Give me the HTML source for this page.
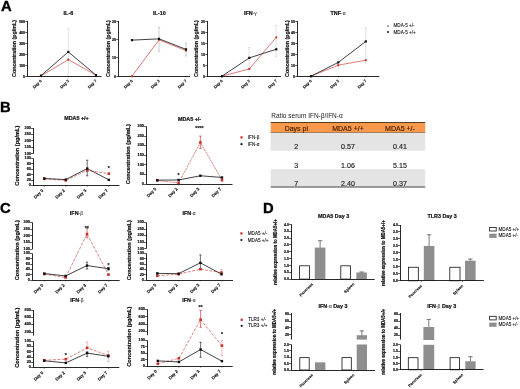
<!DOCTYPE html>
<html><head><meta charset="utf-8"><style>
html,body{margin:0;padding:0;background:#fff;}
body{width:520px;height:389px;overflow:hidden;}
svg{display:block;font-family:"Liberation Sans", sans-serif;}
svg{will-change:transform}
</style></head><body>
<svg width="520" height="389" viewBox="0 0 520 389">
<text x="0.9" y="11.2" font-size="14.8" font-weight="bold" fill="#000" stroke="#000" stroke-width="0.35">A</text>
<text x="0.0" y="112.4" font-size="14.8" font-weight="bold" fill="#000" stroke="#000" stroke-width="0.35">B</text>
<text x="0.1" y="212.9" font-size="14.8" font-weight="bold" fill="#000" stroke="#000" stroke-width="0.35">C</text>
<text x="263.0" y="212.9" font-size="14.8" font-weight="bold" fill="#000" stroke="#000" stroke-width="0.35">D</text>
<text x="68.40" y="13.40" font-size="5.4" text-anchor="middle" font-weight="bold" fill="#111" dominant-baseline="central" stroke="#111" stroke-width="0.2">IL-6</text>
<text x="14.00" y="48.50" font-size="5.3" text-anchor="middle" font-weight="bold" fill="#111" dominant-baseline="central" stroke="#111" stroke-width="0.2" transform="rotate(-90 14 48.5)">Concentration (pg/mL)</text>
<line x1="68.30" y1="28.73" x2="68.30" y2="76.20" stroke="#c8c8c8" stroke-width="0.5"/>
<line x1="67.10" y1="28.73" x2="69.50" y2="28.73" stroke="#c8c8c8" stroke-width="0.5"/>
<line x1="67.10" y1="76.20" x2="69.50" y2="76.20" stroke="#c8c8c8" stroke-width="0.5"/>
<line x1="27.50" y1="76.60" x2="27.50" y2="21.00" stroke="#111" stroke-width="0.9"/>
<line x1="25.30" y1="76.50" x2="27.50" y2="76.50" stroke="#111" stroke-width="0.7"/>
<text x="25.00" y="76.70" font-size="3.5" text-anchor="end" font-weight="bold" fill="#111" dominant-baseline="central" stroke="#111" stroke-width="0.2">0</text>
<line x1="25.30" y1="65.50" x2="27.50" y2="65.50" stroke="#111" stroke-width="0.7"/>
<text x="25.00" y="65.66" font-size="3.5" text-anchor="end" font-weight="bold" fill="#111" dominant-baseline="central" stroke="#111" stroke-width="0.2">100</text>
<line x1="25.30" y1="54.50" x2="27.50" y2="54.50" stroke="#111" stroke-width="0.7"/>
<text x="25.00" y="54.62" font-size="3.5" text-anchor="end" font-weight="bold" fill="#111" dominant-baseline="central" stroke="#111" stroke-width="0.2">200</text>
<line x1="25.30" y1="43.50" x2="27.50" y2="43.50" stroke="#111" stroke-width="0.7"/>
<text x="25.00" y="43.58" font-size="3.5" text-anchor="end" font-weight="bold" fill="#111" dominant-baseline="central" stroke="#111" stroke-width="0.2">300</text>
<line x1="25.30" y1="32.50" x2="27.50" y2="32.50" stroke="#111" stroke-width="0.7"/>
<text x="25.00" y="32.54" font-size="3.5" text-anchor="end" font-weight="bold" fill="#111" dominant-baseline="central" stroke="#111" stroke-width="0.2">400</text>
<line x1="25.30" y1="21.50" x2="27.50" y2="21.50" stroke="#111" stroke-width="0.7"/>
<text x="25.00" y="21.50" font-size="3.5" text-anchor="end" font-weight="bold" fill="#111" dominant-baseline="central" stroke="#111" stroke-width="0.2">500</text>
<line x1="27.05" y1="76.50" x2="101.60" y2="76.50" stroke="#111" stroke-width="0.9"/>
<line x1="41.00" y1="76.20" x2="41.00" y2="77.40" stroke="#111" stroke-width="0.6"/>
<text x="39.79" y="79.01" font-size="4.0" text-anchor="end" font-weight="bold" fill="#111" stroke="#111" stroke-width="0.12" dominant-baseline="hanging" transform="rotate(-45 39.79 79.01)">Day 0</text>
<line x1="68.30" y1="76.20" x2="68.30" y2="77.40" stroke="#111" stroke-width="0.6"/>
<text x="67.09" y="79.01" font-size="4.0" text-anchor="end" font-weight="bold" fill="#111" stroke="#111" stroke-width="0.12" dominant-baseline="hanging" transform="rotate(-45 67.09 79.01)">Day 3</text>
<line x1="96.00" y1="76.20" x2="96.00" y2="77.40" stroke="#111" stroke-width="0.6"/>
<text x="94.79" y="79.01" font-size="4.0" text-anchor="end" font-weight="bold" fill="#111" stroke="#111" stroke-width="0.12" dominant-baseline="hanging" transform="rotate(-45 94.79 79.01)">Day 7</text>
<polyline points="41.00,75.87 68.30,59.64 96.00,75.10" fill="none" stroke="#cc5048" stroke-width="0.75"/>
<polyline points="41.00,75.65 68.30,51.91 96.00,75.10" fill="none" stroke="#111" stroke-width="0.8"/>
<circle cx="41.00" cy="75.87" r="1.10" fill="#c8302c"/>
<circle cx="68.30" cy="59.64" r="1.10" fill="#c8302c"/>
<circle cx="96.00" cy="75.10" r="1.10" fill="#c8302c"/>
<rect x="39.90" y="74.55" width="2.20" height="2.20" fill="#111"/>
<rect x="67.20" y="50.81" width="2.20" height="2.20" fill="#111"/>
<rect x="94.90" y="74.00" width="2.20" height="2.20" fill="#111"/>
<text x="159.40" y="13.40" font-size="5.4" text-anchor="middle" font-weight="bold" fill="#111" dominant-baseline="central" stroke="#111" stroke-width="0.2">IL-10</text>
<text x="107.50" y="48.50" font-size="5.3" text-anchor="middle" font-weight="bold" fill="#111" dominant-baseline="central" stroke="#111" stroke-width="0.2" transform="rotate(-90 107.5 48.5)">Concentration (pg/mL)</text>
<line x1="159.00" y1="27.26" x2="159.00" y2="51.36" stroke="#9a9a9a" stroke-width="0.5"/>
<line x1="157.80" y1="27.26" x2="160.20" y2="27.26" stroke="#9a9a9a" stroke-width="0.5"/>
<line x1="157.80" y1="51.36" x2="160.20" y2="51.36" stroke="#9a9a9a" stroke-width="0.5"/>
<line x1="186.00" y1="43.08" x2="186.00" y2="55.96" stroke="#9a9a9a" stroke-width="0.5"/>
<line x1="184.80" y1="43.08" x2="187.20" y2="43.08" stroke="#9a9a9a" stroke-width="0.5"/>
<line x1="184.80" y1="55.96" x2="187.20" y2="55.96" stroke="#9a9a9a" stroke-width="0.5"/>
<line x1="118.50" y1="76.60" x2="118.50" y2="21.00" stroke="#111" stroke-width="0.9"/>
<line x1="116.30" y1="76.50" x2="118.50" y2="76.50" stroke="#111" stroke-width="0.7"/>
<text x="116.00" y="76.70" font-size="3.5" text-anchor="end" font-weight="bold" fill="#111" dominant-baseline="central" stroke="#111" stroke-width="0.2">0</text>
<line x1="116.30" y1="57.50" x2="118.50" y2="57.50" stroke="#111" stroke-width="0.7"/>
<text x="116.00" y="58.30" font-size="3.5" text-anchor="end" font-weight="bold" fill="#111" dominant-baseline="central" stroke="#111" stroke-width="0.2">10</text>
<line x1="116.30" y1="39.50" x2="118.50" y2="39.50" stroke="#111" stroke-width="0.7"/>
<text x="116.00" y="39.90" font-size="3.5" text-anchor="end" font-weight="bold" fill="#111" dominant-baseline="central" stroke="#111" stroke-width="0.2">20</text>
<line x1="116.30" y1="21.50" x2="118.50" y2="21.50" stroke="#111" stroke-width="0.7"/>
<text x="116.00" y="21.50" font-size="3.5" text-anchor="end" font-weight="bold" fill="#111" dominant-baseline="central" stroke="#111" stroke-width="0.2">30</text>
<line x1="118.05" y1="76.50" x2="190.00" y2="76.50" stroke="#111" stroke-width="0.9"/>
<line x1="132.00" y1="76.20" x2="132.00" y2="77.40" stroke="#111" stroke-width="0.6"/>
<text x="130.79" y="79.01" font-size="4.0" text-anchor="end" font-weight="bold" fill="#111" stroke="#111" stroke-width="0.12" dominant-baseline="hanging" transform="rotate(-45 130.79 79.01)">Day 0</text>
<line x1="159.00" y1="76.20" x2="159.00" y2="77.40" stroke="#111" stroke-width="0.6"/>
<text x="157.79" y="79.01" font-size="4.0" text-anchor="end" font-weight="bold" fill="#111" stroke="#111" stroke-width="0.12" dominant-baseline="hanging" transform="rotate(-45 157.79 79.01)">Day 3</text>
<line x1="186.00" y1="76.20" x2="186.00" y2="77.40" stroke="#111" stroke-width="0.6"/>
<text x="184.79" y="79.01" font-size="4.0" text-anchor="end" font-weight="bold" fill="#111" stroke="#111" stroke-width="0.12" dominant-baseline="hanging" transform="rotate(-45 184.79 79.01)">Day 7</text>
<polyline points="132.00,76.20 159.00,39.77 186.00,50.62" fill="none" stroke="#cc5048" stroke-width="0.75"/>
<polyline points="132.00,40.14 159.00,38.85 186.00,49.34" fill="none" stroke="#111" stroke-width="0.8"/>
<circle cx="132.00" cy="76.20" r="1.10" fill="#c8302c"/>
<circle cx="159.00" cy="39.77" r="1.10" fill="#c8302c"/>
<circle cx="186.00" cy="50.62" r="1.10" fill="#c8302c"/>
<rect x="130.90" y="39.04" width="2.20" height="2.20" fill="#111"/>
<rect x="157.90" y="37.75" width="2.20" height="2.20" fill="#111"/>
<rect x="184.90" y="48.24" width="2.20" height="2.20" fill="#111"/>
<text x="250.40" y="13.40" font-size="5.4" text-anchor="middle" font-weight="bold" fill="#111" dominant-baseline="central" stroke="#111" stroke-width="0.2">IFN<tspan font-weight="normal" font-size="4.86" fill="#444" stroke="#444" stroke-width="0.1">-γ</tspan></text>
<text x="195.80" y="48.50" font-size="5.3" text-anchor="middle" font-weight="bold" fill="#111" dominant-baseline="central" stroke="#111" stroke-width="0.2" transform="rotate(-90 195.8 48.5)">Concentration (pg/mL)</text>
<line x1="249.00" y1="47.50" x2="249.00" y2="69.58" stroke="#c0c0c0" stroke-width="0.5"/>
<line x1="247.80" y1="47.50" x2="250.20" y2="47.50" stroke="#c0c0c0" stroke-width="0.5"/>
<line x1="247.80" y1="69.58" x2="250.20" y2="69.58" stroke="#c0c0c0" stroke-width="0.5"/>
<line x1="276.00" y1="25.42" x2="276.00" y2="56.33" stroke="#c0c0c0" stroke-width="0.5"/>
<line x1="274.80" y1="25.42" x2="277.20" y2="25.42" stroke="#c0c0c0" stroke-width="0.5"/>
<line x1="274.80" y1="56.33" x2="277.20" y2="56.33" stroke="#c0c0c0" stroke-width="0.5"/>
<line x1="207.50" y1="76.60" x2="207.50" y2="21.00" stroke="#111" stroke-width="0.9"/>
<line x1="205.30" y1="76.50" x2="207.50" y2="76.50" stroke="#111" stroke-width="0.7"/>
<text x="205.00" y="76.70" font-size="3.5" text-anchor="end" font-weight="bold" fill="#111" dominant-baseline="central" stroke="#111" stroke-width="0.2">0</text>
<line x1="205.30" y1="65.50" x2="207.50" y2="65.50" stroke="#111" stroke-width="0.7"/>
<text x="205.00" y="65.66" font-size="3.5" text-anchor="end" font-weight="bold" fill="#111" dominant-baseline="central" stroke="#111" stroke-width="0.2">5</text>
<line x1="205.30" y1="54.50" x2="207.50" y2="54.50" stroke="#111" stroke-width="0.7"/>
<text x="205.00" y="54.62" font-size="3.5" text-anchor="end" font-weight="bold" fill="#111" dominant-baseline="central" stroke="#111" stroke-width="0.2">10</text>
<line x1="205.30" y1="43.50" x2="207.50" y2="43.50" stroke="#111" stroke-width="0.7"/>
<text x="205.00" y="43.58" font-size="3.5" text-anchor="end" font-weight="bold" fill="#111" dominant-baseline="central" stroke="#111" stroke-width="0.2">15</text>
<line x1="205.30" y1="32.50" x2="207.50" y2="32.50" stroke="#111" stroke-width="0.7"/>
<text x="205.00" y="32.54" font-size="3.5" text-anchor="end" font-weight="bold" fill="#111" dominant-baseline="central" stroke="#111" stroke-width="0.2">20</text>
<line x1="205.30" y1="21.50" x2="207.50" y2="21.50" stroke="#111" stroke-width="0.7"/>
<text x="205.00" y="21.50" font-size="3.5" text-anchor="end" font-weight="bold" fill="#111" dominant-baseline="central" stroke="#111" stroke-width="0.2">25</text>
<line x1="207.05" y1="76.50" x2="281.00" y2="76.50" stroke="#111" stroke-width="0.9"/>
<line x1="222.00" y1="76.20" x2="222.00" y2="77.40" stroke="#111" stroke-width="0.6"/>
<text x="220.79" y="79.01" font-size="4.0" text-anchor="end" font-weight="bold" fill="#111" stroke="#111" stroke-width="0.12" dominant-baseline="hanging" transform="rotate(-45 220.79 79.01)">Day 0</text>
<line x1="249.30" y1="76.20" x2="249.30" y2="77.40" stroke="#111" stroke-width="0.6"/>
<text x="248.09" y="79.01" font-size="4.0" text-anchor="end" font-weight="bold" fill="#111" stroke="#111" stroke-width="0.12" dominant-baseline="hanging" transform="rotate(-45 248.09 79.01)">Day 3</text>
<line x1="276.30" y1="76.20" x2="276.30" y2="77.40" stroke="#111" stroke-width="0.6"/>
<text x="275.09" y="79.01" font-size="4.0" text-anchor="end" font-weight="bold" fill="#111" stroke="#111" stroke-width="0.12" dominant-baseline="hanging" transform="rotate(-45 275.09 79.01)">Day 7</text>
<polyline points="222.00,76.20 249.30,68.91 276.30,37.34" fill="none" stroke="#cc5048" stroke-width="0.75"/>
<polyline points="222.00,76.20 249.30,57.87 276.30,49.26" fill="none" stroke="#111" stroke-width="0.8"/>
<circle cx="222.00" cy="76.20" r="1.10" fill="#c8302c"/>
<circle cx="249.30" cy="68.91" r="1.10" fill="#c8302c"/>
<circle cx="276.30" cy="37.34" r="1.10" fill="#c8302c"/>
<rect x="220.90" y="75.10" width="2.20" height="2.20" fill="#111"/>
<rect x="248.20" y="56.77" width="2.20" height="2.20" fill="#111"/>
<rect x="275.20" y="48.16" width="2.20" height="2.20" fill="#111"/>
<text x="338.00" y="13.40" font-size="5.4" text-anchor="middle" font-weight="bold" fill="#111" dominant-baseline="central" stroke="#111" stroke-width="0.2">TNF<tspan font-weight="normal" font-size="4.86" fill="#444" stroke="#444" stroke-width="0.1">-α</tspan></text>
<text x="286.50" y="48.50" font-size="5.3" text-anchor="middle" font-weight="bold" fill="#111" dominant-baseline="central" stroke="#111" stroke-width="0.2" transform="rotate(-90 286.5 48.5)">Concentration (pg/mL)</text>
<line x1="338.30" y1="58.54" x2="338.30" y2="67.37" stroke="#c0c0c0" stroke-width="0.5"/>
<line x1="337.10" y1="58.54" x2="339.50" y2="58.54" stroke="#c0c0c0" stroke-width="0.5"/>
<line x1="337.10" y1="67.37" x2="339.50" y2="67.37" stroke="#c0c0c0" stroke-width="0.5"/>
<line x1="365.80" y1="27.62" x2="365.80" y2="62.95" stroke="#c0c0c0" stroke-width="0.5"/>
<line x1="364.60" y1="27.62" x2="367.00" y2="27.62" stroke="#c0c0c0" stroke-width="0.5"/>
<line x1="364.60" y1="62.95" x2="367.00" y2="62.95" stroke="#c0c0c0" stroke-width="0.5"/>
<line x1="297.50" y1="76.60" x2="297.50" y2="21.00" stroke="#111" stroke-width="0.9"/>
<line x1="295.30" y1="76.50" x2="297.50" y2="76.50" stroke="#111" stroke-width="0.7"/>
<text x="295.00" y="76.70" font-size="3.5" text-anchor="end" font-weight="bold" fill="#111" dominant-baseline="central" stroke="#111" stroke-width="0.2">0</text>
<line x1="295.30" y1="65.50" x2="297.50" y2="65.50" stroke="#111" stroke-width="0.7"/>
<text x="295.00" y="65.66" font-size="3.5" text-anchor="end" font-weight="bold" fill="#111" dominant-baseline="central" stroke="#111" stroke-width="0.2">10</text>
<line x1="295.30" y1="54.50" x2="297.50" y2="54.50" stroke="#111" stroke-width="0.7"/>
<text x="295.00" y="54.62" font-size="3.5" text-anchor="end" font-weight="bold" fill="#111" dominant-baseline="central" stroke="#111" stroke-width="0.2">20</text>
<line x1="295.30" y1="43.50" x2="297.50" y2="43.50" stroke="#111" stroke-width="0.7"/>
<text x="295.00" y="43.58" font-size="3.5" text-anchor="end" font-weight="bold" fill="#111" dominant-baseline="central" stroke="#111" stroke-width="0.2">30</text>
<line x1="295.30" y1="32.50" x2="297.50" y2="32.50" stroke="#111" stroke-width="0.7"/>
<text x="295.00" y="32.54" font-size="3.5" text-anchor="end" font-weight="bold" fill="#111" dominant-baseline="central" stroke="#111" stroke-width="0.2">40</text>
<line x1="295.30" y1="21.50" x2="297.50" y2="21.50" stroke="#111" stroke-width="0.7"/>
<text x="295.00" y="21.50" font-size="3.5" text-anchor="end" font-weight="bold" fill="#111" dominant-baseline="central" stroke="#111" stroke-width="0.2">50</text>
<line x1="297.05" y1="76.50" x2="379.30" y2="76.50" stroke="#111" stroke-width="0.9"/>
<line x1="311.00" y1="76.20" x2="311.00" y2="77.40" stroke="#111" stroke-width="0.6"/>
<text x="309.79" y="79.01" font-size="4.0" text-anchor="end" font-weight="bold" fill="#111" stroke="#111" stroke-width="0.12" dominant-baseline="hanging" transform="rotate(-45 309.79 79.01)">Day 0</text>
<line x1="338.30" y1="76.20" x2="338.30" y2="77.40" stroke="#111" stroke-width="0.6"/>
<text x="337.09" y="79.01" font-size="4.0" text-anchor="end" font-weight="bold" fill="#111" stroke="#111" stroke-width="0.12" dominant-baseline="hanging" transform="rotate(-45 337.09 79.01)">Day 3</text>
<line x1="365.80" y1="76.20" x2="365.80" y2="77.40" stroke="#111" stroke-width="0.6"/>
<text x="364.59" y="79.01" font-size="4.0" text-anchor="end" font-weight="bold" fill="#111" stroke="#111" stroke-width="0.12" dominant-baseline="hanging" transform="rotate(-45 364.59 79.01)">Day 7</text>
<polyline points="311.00,76.20 338.30,65.16 365.80,60.19" fill="none" stroke="#cc5048" stroke-width="0.75"/>
<polyline points="311.00,76.20 338.30,62.40 365.80,41.42" fill="none" stroke="#111" stroke-width="0.8"/>
<circle cx="311.00" cy="76.20" r="1.10" fill="#c8302c"/>
<circle cx="338.30" cy="65.16" r="1.10" fill="#c8302c"/>
<circle cx="365.80" cy="60.19" r="1.10" fill="#c8302c"/>
<rect x="309.90" y="75.10" width="2.20" height="2.20" fill="#111"/>
<rect x="337.20" y="61.30" width="2.20" height="2.20" fill="#111"/>
<rect x="364.70" y="40.32" width="2.20" height="2.20" fill="#111"/>
<circle cx="388.00" cy="25.90" r="1.00" fill="#c07878"/>
<text x="393.50" y="25.90" font-size="4.6" text-anchor="start" font-weight="normal" fill="#111" dominant-baseline="central" stroke="#111" stroke-width="0.1">MDA-5 +/-</text>
<circle cx="388.00" cy="32.00" r="1.00" fill="#111"/>
<text x="393.50" y="32.00" font-size="4.6" text-anchor="start" font-weight="normal" fill="#111" dominant-baseline="central" stroke="#111" stroke-width="0.1">MDA-5 +/+</text>
<text x="76.50" y="117.90" font-size="5.4" text-anchor="middle" font-weight="bold" fill="#111" dominant-baseline="central" stroke="#111" stroke-width="0.2">MDA5 +/+</text>
<text x="16.70" y="155.65" font-size="5.6" text-anchor="middle" font-weight="bold" fill="#111" dominant-baseline="central" stroke="#111" stroke-width="0.2" transform="rotate(-90 16.7 155.65)">Concentration (pg/mL)</text>
<line x1="87.20" y1="160.21" x2="87.20" y2="175.82" stroke="#222" stroke-width="0.65"/>
<line x1="86.00" y1="160.21" x2="88.40" y2="160.21" stroke="#222" stroke-width="0.65"/>
<line x1="86.00" y1="175.82" x2="88.40" y2="175.82" stroke="#222" stroke-width="0.65"/>
<line x1="33.50" y1="185.50" x2="33.50" y2="158.60" stroke="#111" stroke-width="0.9"/>
<line x1="33.50" y1="153.80" x2="33.50" y2="128.00" stroke="#111" stroke-width="0.9"/>
<line x1="31.10" y1="185.50" x2="33.50" y2="185.50" stroke="#111" stroke-width="0.7"/>
<text x="30.90" y="185.30" font-size="3.8" text-anchor="end" font-weight="bold" fill="#111" dominant-baseline="central" stroke="#111" stroke-width="0.2">0</text>
<line x1="31.10" y1="180.50" x2="33.50" y2="180.50" stroke="#111" stroke-width="0.7"/>
<text x="30.90" y="179.92" font-size="3.8" text-anchor="end" font-weight="bold" fill="#111" dominant-baseline="central" stroke="#111" stroke-width="0.2">20</text>
<line x1="31.10" y1="174.50" x2="33.50" y2="174.50" stroke="#111" stroke-width="0.7"/>
<text x="30.90" y="174.54" font-size="3.8" text-anchor="end" font-weight="bold" fill="#111" dominant-baseline="central" stroke="#111" stroke-width="0.2">40</text>
<line x1="31.10" y1="169.50" x2="33.50" y2="169.50" stroke="#111" stroke-width="0.7"/>
<text x="30.90" y="169.16" font-size="3.8" text-anchor="end" font-weight="bold" fill="#111" dominant-baseline="central" stroke="#111" stroke-width="0.2">60</text>
<line x1="31.10" y1="163.50" x2="33.50" y2="163.50" stroke="#111" stroke-width="0.7"/>
<text x="30.90" y="163.78" font-size="3.8" text-anchor="end" font-weight="bold" fill="#111" dominant-baseline="central" stroke="#111" stroke-width="0.2">80</text>
<line x1="31.10" y1="158.50" x2="33.50" y2="158.50" stroke="#111" stroke-width="0.7"/>
<text x="30.90" y="158.40" font-size="3.8" text-anchor="end" font-weight="bold" fill="#111" dominant-baseline="central" stroke="#111" stroke-width="0.2">100</text>
<line x1="31.10" y1="153.50" x2="33.50" y2="153.50" stroke="#111" stroke-width="0.7"/>
<text x="30.90" y="153.60" font-size="3.8" text-anchor="end" font-weight="bold" fill="#111" dominant-baseline="central" stroke="#111" stroke-width="0.2">100</text>
<line x1="31.10" y1="147.50" x2="33.50" y2="147.50" stroke="#111" stroke-width="0.7"/>
<text x="30.90" y="147.15" font-size="3.8" text-anchor="end" font-weight="bold" fill="#111" dominant-baseline="central" stroke="#111" stroke-width="0.2">150</text>
<line x1="31.10" y1="140.50" x2="33.50" y2="140.50" stroke="#111" stroke-width="0.7"/>
<text x="30.90" y="140.70" font-size="3.8" text-anchor="end" font-weight="bold" fill="#111" dominant-baseline="central" stroke="#111" stroke-width="0.2">200</text>
<line x1="31.10" y1="134.50" x2="33.50" y2="134.50" stroke="#111" stroke-width="0.7"/>
<text x="30.90" y="134.25" font-size="3.8" text-anchor="end" font-weight="bold" fill="#111" dominant-baseline="central" stroke="#111" stroke-width="0.2">250</text>
<line x1="31.10" y1="128.50" x2="33.50" y2="128.50" stroke="#111" stroke-width="0.7"/>
<text x="30.90" y="127.80" font-size="3.8" text-anchor="end" font-weight="bold" fill="#111" dominant-baseline="central" stroke="#111" stroke-width="0.2">300</text>
<line x1="33.05" y1="185.50" x2="119.50" y2="185.50" stroke="#111" stroke-width="0.9"/>
<line x1="44.30" y1="185.50" x2="44.30" y2="186.70" stroke="#111" stroke-width="0.6"/>
<text x="41.44" y="188.60" font-size="4.3" text-anchor="end" font-weight="bold" fill="#111" stroke="#111" stroke-width="0.12" dominant-baseline="hanging" transform="rotate(-45 41.44 188.60)">Day 0</text>
<line x1="65.80" y1="185.50" x2="65.80" y2="186.70" stroke="#111" stroke-width="0.6"/>
<text x="62.94" y="188.60" font-size="4.3" text-anchor="end" font-weight="bold" fill="#111" stroke="#111" stroke-width="0.12" dominant-baseline="hanging" transform="rotate(-45 62.94 188.60)">Day 2</text>
<line x1="87.20" y1="185.50" x2="87.20" y2="186.70" stroke="#111" stroke-width="0.6"/>
<text x="84.34" y="188.60" font-size="4.3" text-anchor="end" font-weight="bold" fill="#111" stroke="#111" stroke-width="0.12" dominant-baseline="hanging" transform="rotate(-45 84.34 188.60)">Day 3</text>
<line x1="108.80" y1="185.50" x2="108.80" y2="186.70" stroke="#111" stroke-width="0.6"/>
<text x="105.94" y="188.60" font-size="4.3" text-anchor="end" font-weight="bold" fill="#111" stroke="#111" stroke-width="0.12" dominant-baseline="hanging" transform="rotate(-45 105.94 188.60)">Day 7</text>
<polyline points="44.30,178.78 65.80,180.39 87.20,170.44 108.80,173.66" fill="none" stroke="#cc5048" stroke-width="0.7" stroke-dasharray="3.0,1.4"/>
<polyline points="44.30,178.51 65.80,179.58 87.20,168.55 108.80,179.85" fill="none" stroke="#111" stroke-width="0.8"/>
<rect x="43.00" y="177.47" width="2.60" height="2.60" fill="#c8302c"/>
<rect x="64.50" y="179.09" width="2.60" height="2.60" fill="#c8302c"/>
<rect x="85.90" y="169.14" width="2.60" height="2.60" fill="#c8302c"/>
<rect x="107.50" y="172.36" width="2.60" height="2.60" fill="#c8302c"/>
<rect x="43.10" y="177.31" width="2.40" height="2.40" fill="#111"/>
<rect x="64.60" y="178.38" width="2.40" height="2.40" fill="#111"/>
<rect x="86.00" y="167.35" width="2.40" height="2.40" fill="#111"/>
<rect x="107.60" y="178.65" width="2.40" height="2.40" fill="#111"/>
<text x="108.80" y="167.50" font-size="5.2" text-anchor="middle" font-weight="bold" fill="#222" dominant-baseline="central" stroke="#222" stroke-width="0.2">*</text>
<text x="189.50" y="118.60" font-size="5.4" text-anchor="middle" font-weight="bold" fill="#111" dominant-baseline="central" stroke="#111" stroke-width="0.2">MDA5 +/-</text>
<text x="128.40" y="154.15" font-size="5.6" text-anchor="middle" font-weight="bold" fill="#111" dominant-baseline="central" stroke="#111" stroke-width="0.2" transform="rotate(-90 128.4 154.15)">Concentration (pg/mL)</text>
<line x1="200.40" y1="136.08" x2="200.40" y2="148.54" stroke="#c8302c" stroke-width="0.65"/>
<line x1="199.20" y1="136.08" x2="201.60" y2="136.08" stroke="#c8302c" stroke-width="0.65"/>
<line x1="199.20" y1="148.54" x2="201.60" y2="148.54" stroke="#c8302c" stroke-width="0.65"/>
<line x1="146.50" y1="184.00" x2="146.50" y2="126.50" stroke="#111" stroke-width="0.9"/>
<line x1="144.10" y1="184.50" x2="146.50" y2="184.50" stroke="#111" stroke-width="0.7"/>
<text x="143.90" y="183.80" font-size="3.8" text-anchor="end" font-weight="bold" fill="#111" dominant-baseline="central" stroke="#111" stroke-width="0.2">0</text>
<line x1="144.10" y1="174.50" x2="146.50" y2="174.50" stroke="#111" stroke-width="0.7"/>
<text x="143.90" y="174.22" font-size="3.8" text-anchor="end" font-weight="bold" fill="#111" dominant-baseline="central" stroke="#111" stroke-width="0.2">50</text>
<line x1="144.10" y1="164.50" x2="146.50" y2="164.50" stroke="#111" stroke-width="0.7"/>
<text x="143.90" y="164.63" font-size="3.8" text-anchor="end" font-weight="bold" fill="#111" dominant-baseline="central" stroke="#111" stroke-width="0.2">100</text>
<line x1="144.10" y1="155.50" x2="146.50" y2="155.50" stroke="#111" stroke-width="0.7"/>
<text x="143.90" y="155.05" font-size="3.8" text-anchor="end" font-weight="bold" fill="#111" dominant-baseline="central" stroke="#111" stroke-width="0.2">150</text>
<line x1="144.10" y1="145.50" x2="146.50" y2="145.50" stroke="#111" stroke-width="0.7"/>
<text x="143.90" y="145.47" font-size="3.8" text-anchor="end" font-weight="bold" fill="#111" dominant-baseline="central" stroke="#111" stroke-width="0.2">200</text>
<line x1="144.10" y1="136.50" x2="146.50" y2="136.50" stroke="#111" stroke-width="0.7"/>
<text x="143.90" y="135.88" font-size="3.8" text-anchor="end" font-weight="bold" fill="#111" dominant-baseline="central" stroke="#111" stroke-width="0.2">250</text>
<line x1="144.10" y1="126.50" x2="146.50" y2="126.50" stroke="#111" stroke-width="0.7"/>
<text x="143.90" y="126.30" font-size="3.8" text-anchor="end" font-weight="bold" fill="#111" dominant-baseline="central" stroke="#111" stroke-width="0.2">300</text>
<line x1="146.05" y1="184.50" x2="232.50" y2="184.50" stroke="#111" stroke-width="0.9"/>
<line x1="157.30" y1="184.00" x2="157.30" y2="185.20" stroke="#111" stroke-width="0.6"/>
<text x="154.44" y="187.10" font-size="4.3" text-anchor="end" font-weight="bold" fill="#111" stroke="#111" stroke-width="0.12" dominant-baseline="hanging" transform="rotate(-45 154.44 187.10)">Day 0</text>
<line x1="178.60" y1="184.00" x2="178.60" y2="185.20" stroke="#111" stroke-width="0.6"/>
<text x="175.74" y="187.10" font-size="4.3" text-anchor="end" font-weight="bold" fill="#111" stroke="#111" stroke-width="0.12" dominant-baseline="hanging" transform="rotate(-45 175.74 187.10)">Day 2</text>
<line x1="200.40" y1="184.00" x2="200.40" y2="185.20" stroke="#111" stroke-width="0.6"/>
<text x="197.54" y="187.10" font-size="4.3" text-anchor="end" font-weight="bold" fill="#111" stroke="#111" stroke-width="0.12" dominant-baseline="hanging" transform="rotate(-45 197.54 187.10)">Day 3</text>
<line x1="222.00" y1="184.00" x2="222.00" y2="185.20" stroke="#111" stroke-width="0.6"/>
<text x="219.14" y="187.10" font-size="4.3" text-anchor="end" font-weight="bold" fill="#111" stroke="#111" stroke-width="0.12" dominant-baseline="hanging" transform="rotate(-45 219.14 187.10)">Day 7</text>
<polyline points="157.30,180.55 178.60,182.85 200.40,142.41 222.00,180.17" fill="none" stroke="#cc5048" stroke-width="0.7" stroke-dasharray="2.2,0.8"/>
<polyline points="157.30,180.17 178.60,179.97 200.40,175.76 222.00,177.48" fill="none" stroke="#111" stroke-width="0.8"/>
<rect x="156.00" y="179.25" width="2.60" height="2.60" fill="#c8302c"/>
<rect x="177.30" y="181.55" width="2.60" height="2.60" fill="#c8302c"/>
<rect x="199.10" y="141.11" width="2.60" height="2.60" fill="#c8302c"/>
<rect x="220.70" y="178.87" width="2.60" height="2.60" fill="#c8302c"/>
<rect x="156.10" y="178.97" width="2.40" height="2.40" fill="#111"/>
<rect x="177.40" y="178.78" width="2.40" height="2.40" fill="#111"/>
<rect x="199.20" y="174.56" width="2.40" height="2.40" fill="#111"/>
<rect x="220.80" y="176.28" width="2.40" height="2.40" fill="#111"/>
<text x="199.40" y="128.20" font-size="5.2" text-anchor="middle" font-weight="bold" fill="#222" dominant-baseline="central" stroke="#222" stroke-width="0.2">****</text>
<text x="178.60" y="175.30" font-size="5.2" text-anchor="middle" font-weight="bold" fill="#222" dominant-baseline="central" stroke="#222" stroke-width="0.2">*</text>
<rect x="240.40" y="136.30" width="2.20" height="2.20" fill="#c8302c"/>
<text x="247.80" y="137.40" font-size="4.6" text-anchor="start" font-weight="normal" fill="#111" dominant-baseline="central" stroke="#111" stroke-width="0.1">IFN-β</text>
<circle cx="241.50" cy="144.20" r="1.10" fill="#111"/>
<text x="247.80" y="144.20" font-size="4.6" text-anchor="start" font-weight="normal" fill="#111" dominant-baseline="central" stroke="#111" stroke-width="0.1">IFN-α</text>
<text x="76.40" y="212.60" font-size="5.4" text-anchor="middle" font-weight="bold" fill="#111" dominant-baseline="central" stroke="#111" stroke-width="0.2">IFN<tspan font-weight="normal" font-size="4.86" fill="#444" stroke="#444" stroke-width="0.1">-β</tspan></text>
<text x="16.70" y="250.25" font-size="5.6" text-anchor="middle" font-weight="bold" fill="#111" dominant-baseline="central" stroke="#111" stroke-width="0.2" transform="rotate(-90 16.7 250.25)">Concentration (pg/mL)</text>
<line x1="87.00" y1="228.46" x2="87.00" y2="237.74" stroke="#c8302c" stroke-width="0.65"/>
<line x1="85.80" y1="228.46" x2="88.20" y2="228.46" stroke="#c8302c" stroke-width="0.65"/>
<line x1="85.80" y1="237.74" x2="88.20" y2="237.74" stroke="#c8302c" stroke-width="0.65"/>
<line x1="87.00" y1="262.11" x2="87.00" y2="269.03" stroke="#222" stroke-width="0.65"/>
<line x1="85.80" y1="262.11" x2="88.20" y2="262.11" stroke="#222" stroke-width="0.65"/>
<line x1="85.80" y1="269.03" x2="88.20" y2="269.03" stroke="#222" stroke-width="0.65"/>
<line x1="108.50" y1="267.43" x2="108.50" y2="270.09" stroke="#222" stroke-width="0.65"/>
<line x1="107.30" y1="267.43" x2="109.70" y2="267.43" stroke="#222" stroke-width="0.65"/>
<line x1="107.30" y1="270.09" x2="109.70" y2="270.09" stroke="#222" stroke-width="0.65"/>
<line x1="32.50" y1="280.20" x2="32.50" y2="253.60" stroke="#111" stroke-width="0.9"/>
<line x1="32.50" y1="249.00" x2="32.50" y2="222.50" stroke="#111" stroke-width="0.9"/>
<line x1="30.10" y1="280.50" x2="32.50" y2="280.50" stroke="#111" stroke-width="0.7"/>
<text x="29.90" y="280.00" font-size="3.8" text-anchor="end" font-weight="bold" fill="#111" dominant-baseline="central" stroke="#111" stroke-width="0.2">0</text>
<line x1="30.10" y1="274.50" x2="32.50" y2="274.50" stroke="#111" stroke-width="0.7"/>
<text x="29.90" y="274.68" font-size="3.8" text-anchor="end" font-weight="bold" fill="#111" dominant-baseline="central" stroke="#111" stroke-width="0.2">20</text>
<line x1="30.10" y1="269.50" x2="32.50" y2="269.50" stroke="#111" stroke-width="0.7"/>
<text x="29.90" y="269.36" font-size="3.8" text-anchor="end" font-weight="bold" fill="#111" dominant-baseline="central" stroke="#111" stroke-width="0.2">40</text>
<line x1="30.10" y1="264.50" x2="32.50" y2="264.50" stroke="#111" stroke-width="0.7"/>
<text x="29.90" y="264.04" font-size="3.8" text-anchor="end" font-weight="bold" fill="#111" dominant-baseline="central" stroke="#111" stroke-width="0.2">60</text>
<line x1="30.10" y1="258.50" x2="32.50" y2="258.50" stroke="#111" stroke-width="0.7"/>
<text x="29.90" y="258.72" font-size="3.8" text-anchor="end" font-weight="bold" fill="#111" dominant-baseline="central" stroke="#111" stroke-width="0.2">80</text>
<line x1="30.10" y1="253.50" x2="32.50" y2="253.50" stroke="#111" stroke-width="0.7"/>
<text x="29.90" y="253.40" font-size="3.8" text-anchor="end" font-weight="bold" fill="#111" dominant-baseline="central" stroke="#111" stroke-width="0.2">100</text>
<line x1="30.10" y1="249.50" x2="32.50" y2="249.50" stroke="#111" stroke-width="0.7"/>
<text x="29.90" y="248.80" font-size="3.8" text-anchor="end" font-weight="bold" fill="#111" dominant-baseline="central" stroke="#111" stroke-width="0.2">100</text>
<line x1="30.10" y1="242.50" x2="32.50" y2="242.50" stroke="#111" stroke-width="0.7"/>
<text x="29.90" y="242.18" font-size="3.8" text-anchor="end" font-weight="bold" fill="#111" dominant-baseline="central" stroke="#111" stroke-width="0.2">150</text>
<line x1="30.10" y1="235.50" x2="32.50" y2="235.50" stroke="#111" stroke-width="0.7"/>
<text x="29.90" y="235.55" font-size="3.8" text-anchor="end" font-weight="bold" fill="#111" dominant-baseline="central" stroke="#111" stroke-width="0.2">200</text>
<line x1="30.10" y1="229.50" x2="32.50" y2="229.50" stroke="#111" stroke-width="0.7"/>
<text x="29.90" y="228.93" font-size="3.8" text-anchor="end" font-weight="bold" fill="#111" dominant-baseline="central" stroke="#111" stroke-width="0.2">250</text>
<line x1="30.10" y1="222.50" x2="32.50" y2="222.50" stroke="#111" stroke-width="0.7"/>
<text x="29.90" y="222.30" font-size="3.8" text-anchor="end" font-weight="bold" fill="#111" dominant-baseline="central" stroke="#111" stroke-width="0.2">300</text>
<line x1="32.05" y1="280.50" x2="119.70" y2="280.50" stroke="#111" stroke-width="0.9"/>
<line x1="44.30" y1="280.20" x2="44.30" y2="281.40" stroke="#111" stroke-width="0.6"/>
<text x="41.44" y="283.30" font-size="4.3" text-anchor="end" font-weight="bold" fill="#111" stroke="#111" stroke-width="0.12" dominant-baseline="hanging" transform="rotate(-45 41.44 283.30)">Day 0</text>
<line x1="65.60" y1="280.20" x2="65.60" y2="281.40" stroke="#111" stroke-width="0.6"/>
<text x="62.74" y="283.30" font-size="4.3" text-anchor="end" font-weight="bold" fill="#111" stroke="#111" stroke-width="0.12" dominant-baseline="hanging" transform="rotate(-45 62.74 283.30)">Day 2</text>
<line x1="87.00" y1="280.20" x2="87.00" y2="281.40" stroke="#111" stroke-width="0.6"/>
<text x="84.14" y="283.30" font-size="4.3" text-anchor="end" font-weight="bold" fill="#111" stroke="#111" stroke-width="0.12" dominant-baseline="hanging" transform="rotate(-45 84.14 283.30)">Day 3</text>
<line x1="108.50" y1="280.20" x2="108.50" y2="281.40" stroke="#111" stroke-width="0.6"/>
<text x="105.64" y="283.30" font-size="4.3" text-anchor="end" font-weight="bold" fill="#111" stroke="#111" stroke-width="0.12" dominant-baseline="hanging" transform="rotate(-45 105.64 283.30)">Day 7</text>
<polyline points="44.30,274.08 65.60,277.54 87.00,234.03 108.50,274.61" fill="none" stroke="#cc5048" stroke-width="0.7" stroke-dasharray="3.0,1.4"/>
<polyline points="44.30,273.55 65.60,275.94 87.00,265.57 108.50,268.76" fill="none" stroke="#111" stroke-width="0.8"/>
<rect x="43.00" y="272.78" width="2.60" height="2.60" fill="#c8302c"/>
<rect x="64.30" y="276.24" width="2.60" height="2.60" fill="#c8302c"/>
<rect x="85.70" y="232.73" width="2.60" height="2.60" fill="#c8302c"/>
<rect x="107.20" y="273.31" width="2.60" height="2.60" fill="#c8302c"/>
<rect x="43.10" y="272.35" width="2.40" height="2.40" fill="#111"/>
<rect x="64.40" y="274.74" width="2.40" height="2.40" fill="#111"/>
<rect x="85.80" y="264.37" width="2.40" height="2.40" fill="#111"/>
<rect x="107.30" y="267.56" width="2.40" height="2.40" fill="#111"/>
<text x="86.80" y="227.50" font-size="5.2" text-anchor="middle" font-weight="bold" fill="#222" dominant-baseline="central" stroke="#222" stroke-width="0.2">**</text>
<text x="108.50" y="264.50" font-size="5.2" text-anchor="middle" font-weight="bold" fill="#222" dominant-baseline="central" stroke="#222" stroke-width="0.2">*</text>
<text x="189.10" y="212.50" font-size="5.4" text-anchor="middle" font-weight="bold" fill="#111" dominant-baseline="central" stroke="#111" stroke-width="0.2">IFN<tspan font-weight="normal" font-size="4.86" fill="#444" stroke="#444" stroke-width="0.1">-α</tspan></text>
<text x="128.70" y="250.20" font-size="5.6" text-anchor="middle" font-weight="bold" fill="#111" dominant-baseline="central" stroke="#111" stroke-width="0.2" transform="rotate(-90 128.7 250.20000000000002)">Concentration (pg/mL)</text>
<line x1="200.40" y1="254.92" x2="200.40" y2="269.18" stroke="#222" stroke-width="0.65"/>
<line x1="199.20" y1="254.92" x2="201.60" y2="254.92" stroke="#222" stroke-width="0.65"/>
<line x1="199.20" y1="269.18" x2="201.60" y2="269.18" stroke="#222" stroke-width="0.65"/>
<line x1="221.50" y1="269.44" x2="221.50" y2="275.25" stroke="#e08080" stroke-width="0.55"/>
<line x1="220.30" y1="269.44" x2="222.70" y2="269.44" stroke="#e08080" stroke-width="0.55"/>
<line x1="220.30" y1="275.25" x2="222.70" y2="275.25" stroke="#e08080" stroke-width="0.55"/>
<line x1="157.30" y1="272.61" x2="157.30" y2="275.25" stroke="#e08080" stroke-width="0.55"/>
<line x1="156.10" y1="272.61" x2="158.50" y2="272.61" stroke="#e08080" stroke-width="0.55"/>
<line x1="156.10" y1="275.25" x2="158.50" y2="275.25" stroke="#e08080" stroke-width="0.55"/>
<line x1="146.50" y1="280.00" x2="146.50" y2="253.60" stroke="#111" stroke-width="0.9"/>
<line x1="146.50" y1="248.70" x2="146.50" y2="222.60" stroke="#111" stroke-width="0.9"/>
<line x1="144.10" y1="280.50" x2="146.50" y2="280.50" stroke="#111" stroke-width="0.7"/>
<text x="143.90" y="279.80" font-size="3.8" text-anchor="end" font-weight="bold" fill="#111" dominant-baseline="central" stroke="#111" stroke-width="0.2">0</text>
<line x1="144.10" y1="274.50" x2="146.50" y2="274.50" stroke="#111" stroke-width="0.7"/>
<text x="143.90" y="274.52" font-size="3.8" text-anchor="end" font-weight="bold" fill="#111" dominant-baseline="central" stroke="#111" stroke-width="0.2">20</text>
<line x1="144.10" y1="269.50" x2="146.50" y2="269.50" stroke="#111" stroke-width="0.7"/>
<text x="143.90" y="269.24" font-size="3.8" text-anchor="end" font-weight="bold" fill="#111" dominant-baseline="central" stroke="#111" stroke-width="0.2">40</text>
<line x1="144.10" y1="264.50" x2="146.50" y2="264.50" stroke="#111" stroke-width="0.7"/>
<text x="143.90" y="263.96" font-size="3.8" text-anchor="end" font-weight="bold" fill="#111" dominant-baseline="central" stroke="#111" stroke-width="0.2">60</text>
<line x1="144.10" y1="258.50" x2="146.50" y2="258.50" stroke="#111" stroke-width="0.7"/>
<text x="143.90" y="258.68" font-size="3.8" text-anchor="end" font-weight="bold" fill="#111" dominant-baseline="central" stroke="#111" stroke-width="0.2">80</text>
<line x1="144.10" y1="253.50" x2="146.50" y2="253.50" stroke="#111" stroke-width="0.7"/>
<text x="143.90" y="253.40" font-size="3.8" text-anchor="end" font-weight="bold" fill="#111" dominant-baseline="central" stroke="#111" stroke-width="0.2">100</text>
<line x1="144.10" y1="248.50" x2="146.50" y2="248.50" stroke="#111" stroke-width="0.7"/>
<text x="143.90" y="248.50" font-size="3.8" text-anchor="end" font-weight="bold" fill="#111" dominant-baseline="central" stroke="#111" stroke-width="0.2">100</text>
<line x1="144.10" y1="242.50" x2="146.50" y2="242.50" stroke="#111" stroke-width="0.7"/>
<text x="143.90" y="241.97" font-size="3.8" text-anchor="end" font-weight="bold" fill="#111" dominant-baseline="central" stroke="#111" stroke-width="0.2">150</text>
<line x1="144.10" y1="235.50" x2="146.50" y2="235.50" stroke="#111" stroke-width="0.7"/>
<text x="143.90" y="235.45" font-size="3.8" text-anchor="end" font-weight="bold" fill="#111" dominant-baseline="central" stroke="#111" stroke-width="0.2">200</text>
<line x1="144.10" y1="229.50" x2="146.50" y2="229.50" stroke="#111" stroke-width="0.7"/>
<text x="143.90" y="228.93" font-size="3.8" text-anchor="end" font-weight="bold" fill="#111" dominant-baseline="central" stroke="#111" stroke-width="0.2">250</text>
<line x1="144.10" y1="222.50" x2="146.50" y2="222.50" stroke="#111" stroke-width="0.7"/>
<text x="143.90" y="222.40" font-size="3.8" text-anchor="end" font-weight="bold" fill="#111" dominant-baseline="central" stroke="#111" stroke-width="0.2">300</text>
<line x1="146.05" y1="280.50" x2="233.00" y2="280.50" stroke="#111" stroke-width="0.9"/>
<line x1="157.30" y1="280.00" x2="157.30" y2="281.20" stroke="#111" stroke-width="0.6"/>
<text x="154.44" y="283.10" font-size="4.3" text-anchor="end" font-weight="bold" fill="#111" stroke="#111" stroke-width="0.12" dominant-baseline="hanging" transform="rotate(-45 154.44 283.10)">Day 0</text>
<line x1="178.60" y1="280.00" x2="178.60" y2="281.20" stroke="#111" stroke-width="0.6"/>
<text x="175.74" y="283.10" font-size="4.3" text-anchor="end" font-weight="bold" fill="#111" stroke="#111" stroke-width="0.12" dominant-baseline="hanging" transform="rotate(-45 175.74 283.10)">Day 2</text>
<line x1="200.40" y1="280.00" x2="200.40" y2="281.20" stroke="#111" stroke-width="0.6"/>
<text x="197.54" y="283.10" font-size="4.3" text-anchor="end" font-weight="bold" fill="#111" stroke="#111" stroke-width="0.12" dominant-baseline="hanging" transform="rotate(-45 197.54 283.10)">Day 3</text>
<line x1="221.50" y1="280.00" x2="221.50" y2="281.20" stroke="#111" stroke-width="0.6"/>
<text x="218.64" y="283.10" font-size="4.3" text-anchor="end" font-weight="bold" fill="#111" stroke="#111" stroke-width="0.12" dominant-baseline="hanging" transform="rotate(-45 218.64 283.10)">Day 7</text>
<polyline points="157.30,275.78 178.60,274.19 200.40,269.18 221.50,272.61" fill="none" stroke="#cc5048" stroke-width="0.7" stroke-dasharray="3.0,1.4"/>
<polyline points="157.30,273.40 178.60,273.66 200.40,262.84 221.50,274.19" fill="none" stroke="#111" stroke-width="0.8"/>
<rect x="156.00" y="274.48" width="2.60" height="2.60" fill="#c8302c"/>
<rect x="177.30" y="272.89" width="2.60" height="2.60" fill="#c8302c"/>
<rect x="199.10" y="267.88" width="2.60" height="2.60" fill="#c8302c"/>
<rect x="220.20" y="271.31" width="2.60" height="2.60" fill="#c8302c"/>
<rect x="156.10" y="272.20" width="2.40" height="2.40" fill="#111"/>
<rect x="177.40" y="272.46" width="2.40" height="2.40" fill="#111"/>
<rect x="199.20" y="261.64" width="2.40" height="2.40" fill="#111"/>
<rect x="220.30" y="272.99" width="2.40" height="2.40" fill="#111"/>
<rect x="240.30" y="232.30" width="2.20" height="2.20" fill="#c8302c"/>
<text x="247.80" y="233.40" font-size="4.6" text-anchor="start" font-weight="normal" fill="#111" dominant-baseline="central" stroke="#111" stroke-width="0.1">MDA5 +/-</text>
<circle cx="241.40" cy="240.00" r="1.10" fill="#111"/>
<text x="247.80" y="240.00" font-size="4.6" text-anchor="start" font-weight="normal" fill="#111" dominant-baseline="central" stroke="#111" stroke-width="0.1">MDA5 +/+</text>
<text x="76.90" y="300.40" font-size="5.4" text-anchor="middle" font-weight="bold" fill="#111" dominant-baseline="central" stroke="#111" stroke-width="0.2">IFN<tspan font-weight="normal" font-size="4.86" fill="#444" stroke="#444" stroke-width="0.1">-β</tspan></text>
<text x="16.90" y="337.70" font-size="5.6" text-anchor="middle" font-weight="bold" fill="#111" dominant-baseline="central" stroke="#111" stroke-width="0.2" transform="rotate(-90 16.9 337.7)">Concentration (pg/mL)</text>
<line x1="87.10" y1="341.83" x2="87.10" y2="348.14" stroke="#e08080" stroke-width="0.55"/>
<line x1="85.90" y1="341.83" x2="88.30" y2="341.83" stroke="#e08080" stroke-width="0.55"/>
<line x1="85.90" y1="348.14" x2="88.30" y2="348.14" stroke="#e08080" stroke-width="0.55"/>
<line x1="87.10" y1="351.82" x2="87.10" y2="356.55" stroke="#222" stroke-width="0.65"/>
<line x1="85.90" y1="351.82" x2="88.30" y2="351.82" stroke="#222" stroke-width="0.65"/>
<line x1="85.90" y1="356.55" x2="88.30" y2="356.55" stroke="#222" stroke-width="0.65"/>
<line x1="108.30" y1="351.29" x2="108.30" y2="361.81" stroke="#e08080" stroke-width="0.55"/>
<line x1="107.10" y1="351.29" x2="109.50" y2="351.29" stroke="#e08080" stroke-width="0.55"/>
<line x1="107.10" y1="361.81" x2="109.50" y2="361.81" stroke="#e08080" stroke-width="0.55"/>
<line x1="33.50" y1="367.60" x2="33.50" y2="341.30" stroke="#111" stroke-width="0.9"/>
<line x1="33.50" y1="335.70" x2="33.50" y2="310.00" stroke="#111" stroke-width="0.9"/>
<line x1="31.10" y1="367.50" x2="33.50" y2="367.50" stroke="#111" stroke-width="0.7"/>
<text x="30.90" y="367.40" font-size="3.8" text-anchor="end" font-weight="bold" fill="#111" dominant-baseline="central" stroke="#111" stroke-width="0.2">0</text>
<line x1="31.10" y1="362.50" x2="33.50" y2="362.50" stroke="#111" stroke-width="0.7"/>
<text x="30.90" y="362.14" font-size="3.8" text-anchor="end" font-weight="bold" fill="#111" dominant-baseline="central" stroke="#111" stroke-width="0.2">20</text>
<line x1="31.10" y1="357.50" x2="33.50" y2="357.50" stroke="#111" stroke-width="0.7"/>
<text x="30.90" y="356.88" font-size="3.8" text-anchor="end" font-weight="bold" fill="#111" dominant-baseline="central" stroke="#111" stroke-width="0.2">40</text>
<line x1="31.10" y1="351.50" x2="33.50" y2="351.50" stroke="#111" stroke-width="0.7"/>
<text x="30.90" y="351.62" font-size="3.8" text-anchor="end" font-weight="bold" fill="#111" dominant-baseline="central" stroke="#111" stroke-width="0.2">60</text>
<line x1="31.10" y1="346.50" x2="33.50" y2="346.50" stroke="#111" stroke-width="0.7"/>
<text x="30.90" y="346.36" font-size="3.8" text-anchor="end" font-weight="bold" fill="#111" dominant-baseline="central" stroke="#111" stroke-width="0.2">80</text>
<line x1="31.10" y1="341.50" x2="33.50" y2="341.50" stroke="#111" stroke-width="0.7"/>
<text x="30.90" y="341.10" font-size="3.8" text-anchor="end" font-weight="bold" fill="#111" dominant-baseline="central" stroke="#111" stroke-width="0.2">100</text>
<line x1="31.10" y1="332.50" x2="33.50" y2="332.50" stroke="#111" stroke-width="0.7"/>
<text x="30.90" y="331.83" font-size="3.8" text-anchor="end" font-weight="bold" fill="#111" dominant-baseline="central" stroke="#111" stroke-width="0.2">200</text>
<line x1="31.10" y1="324.50" x2="33.50" y2="324.50" stroke="#111" stroke-width="0.7"/>
<text x="30.90" y="324.49" font-size="3.8" text-anchor="end" font-weight="bold" fill="#111" dominant-baseline="central" stroke="#111" stroke-width="0.2">400</text>
<line x1="31.10" y1="317.50" x2="33.50" y2="317.50" stroke="#111" stroke-width="0.7"/>
<text x="30.90" y="317.14" font-size="3.8" text-anchor="end" font-weight="bold" fill="#111" dominant-baseline="central" stroke="#111" stroke-width="0.2">600</text>
<line x1="31.10" y1="310.50" x2="33.50" y2="310.50" stroke="#111" stroke-width="0.7"/>
<text x="30.90" y="309.80" font-size="3.8" text-anchor="end" font-weight="bold" fill="#111" dominant-baseline="central" stroke="#111" stroke-width="0.2">800</text>
<line x1="33.05" y1="367.50" x2="119.30" y2="367.50" stroke="#111" stroke-width="0.9"/>
<line x1="44.20" y1="367.60" x2="44.20" y2="368.80" stroke="#111" stroke-width="0.6"/>
<text x="41.34" y="370.70" font-size="4.3" text-anchor="end" font-weight="bold" fill="#111" stroke="#111" stroke-width="0.12" dominant-baseline="hanging" transform="rotate(-45 41.34 370.70)">Day 0</text>
<line x1="65.80" y1="367.60" x2="65.80" y2="368.80" stroke="#111" stroke-width="0.6"/>
<text x="62.94" y="370.70" font-size="4.3" text-anchor="end" font-weight="bold" fill="#111" stroke="#111" stroke-width="0.12" dominant-baseline="hanging" transform="rotate(-45 62.94 370.70)">Day 2</text>
<line x1="87.10" y1="367.60" x2="87.10" y2="368.80" stroke="#111" stroke-width="0.6"/>
<text x="84.24" y="370.70" font-size="4.3" text-anchor="end" font-weight="bold" fill="#111" stroke="#111" stroke-width="0.12" dominant-baseline="hanging" transform="rotate(-45 84.24 370.70)">Day 3</text>
<line x1="108.30" y1="367.60" x2="108.30" y2="368.80" stroke="#111" stroke-width="0.6"/>
<text x="105.44" y="370.70" font-size="4.3" text-anchor="end" font-weight="bold" fill="#111" stroke="#111" stroke-width="0.12" dominant-baseline="hanging" transform="rotate(-45 105.44 370.70)">Day 7</text>
<polyline points="44.20,360.24 65.80,359.18 87.10,347.88 108.30,355.50" fill="none" stroke="#cc5048" stroke-width="0.7" stroke-dasharray="3.0,1.4"/>
<polyline points="44.20,360.76 65.80,362.87 87.10,353.13 108.30,356.29" fill="none" stroke="#111" stroke-width="0.8"/>
<rect x="42.90" y="358.94" width="2.60" height="2.60" fill="#c8302c"/>
<rect x="64.50" y="357.88" width="2.60" height="2.60" fill="#c8302c"/>
<rect x="85.80" y="346.57" width="2.60" height="2.60" fill="#c8302c"/>
<rect x="107.00" y="354.20" width="2.60" height="2.60" fill="#c8302c"/>
<rect x="43.00" y="359.56" width="2.40" height="2.40" fill="#111"/>
<rect x="64.60" y="361.67" width="2.40" height="2.40" fill="#111"/>
<rect x="85.90" y="351.94" width="2.40" height="2.40" fill="#111"/>
<rect x="107.10" y="355.09" width="2.40" height="2.40" fill="#111"/>
<text x="65.80" y="355.00" font-size="5.2" text-anchor="middle" font-weight="bold" fill="#222" dominant-baseline="central" stroke="#222" stroke-width="0.2">*</text>
<text x="188.90" y="299.80" font-size="5.4" text-anchor="middle" font-weight="bold" fill="#111" dominant-baseline="central" stroke="#111" stroke-width="0.2">IFN<tspan font-weight="normal" font-size="4.86" fill="#444" stroke="#444" stroke-width="0.1">-α</tspan></text>
<text x="129.10" y="336.70" font-size="5.6" text-anchor="middle" font-weight="bold" fill="#111" dominant-baseline="central" stroke="#111" stroke-width="0.2" transform="rotate(-90 129.1 336.7)">Concentration (pg/mL)</text>
<line x1="200.60" y1="310.45" x2="200.60" y2="327.32" stroke="#c8302c" stroke-width="0.65"/>
<line x1="199.40" y1="310.45" x2="201.80" y2="310.45" stroke="#c8302c" stroke-width="0.65"/>
<line x1="199.40" y1="327.32" x2="201.80" y2="327.32" stroke="#c8302c" stroke-width="0.65"/>
<line x1="221.90" y1="340.50" x2="221.90" y2="355.46" stroke="#e08080" stroke-width="0.55"/>
<line x1="220.70" y1="340.50" x2="223.10" y2="340.50" stroke="#e08080" stroke-width="0.55"/>
<line x1="220.70" y1="355.46" x2="223.10" y2="355.46" stroke="#e08080" stroke-width="0.55"/>
<line x1="200.60" y1="342.31" x2="200.60" y2="357.27" stroke="#222" stroke-width="0.65"/>
<line x1="199.40" y1="342.31" x2="201.80" y2="342.31" stroke="#222" stroke-width="0.65"/>
<line x1="199.40" y1="357.27" x2="201.80" y2="357.27" stroke="#222" stroke-width="0.65"/>
<line x1="147.50" y1="366.30" x2="147.50" y2="340.50" stroke="#111" stroke-width="0.9"/>
<line x1="147.50" y1="335.20" x2="147.50" y2="309.30" stroke="#111" stroke-width="0.9"/>
<line x1="145.10" y1="366.50" x2="147.50" y2="366.50" stroke="#111" stroke-width="0.7"/>
<text x="144.90" y="366.10" font-size="3.8" text-anchor="end" font-weight="bold" fill="#111" dominant-baseline="central" stroke="#111" stroke-width="0.2">0</text>
<line x1="145.10" y1="359.50" x2="147.50" y2="359.50" stroke="#111" stroke-width="0.7"/>
<text x="144.90" y="359.65" font-size="3.8" text-anchor="end" font-weight="bold" fill="#111" dominant-baseline="central" stroke="#111" stroke-width="0.2">25</text>
<line x1="145.10" y1="353.50" x2="147.50" y2="353.50" stroke="#111" stroke-width="0.7"/>
<text x="144.90" y="353.20" font-size="3.8" text-anchor="end" font-weight="bold" fill="#111" dominant-baseline="central" stroke="#111" stroke-width="0.2">50</text>
<line x1="145.10" y1="346.50" x2="147.50" y2="346.50" stroke="#111" stroke-width="0.7"/>
<text x="144.90" y="346.75" font-size="3.8" text-anchor="end" font-weight="bold" fill="#111" dominant-baseline="central" stroke="#111" stroke-width="0.2">75</text>
<line x1="145.10" y1="340.50" x2="147.50" y2="340.50" stroke="#111" stroke-width="0.7"/>
<text x="144.90" y="340.30" font-size="3.8" text-anchor="end" font-weight="bold" fill="#111" dominant-baseline="central" stroke="#111" stroke-width="0.2">100</text>
<line x1="145.10" y1="331.50" x2="147.50" y2="331.50" stroke="#111" stroke-width="0.7"/>
<text x="144.90" y="331.30" font-size="3.8" text-anchor="end" font-weight="bold" fill="#111" dominant-baseline="central" stroke="#111" stroke-width="0.2">200</text>
<line x1="145.10" y1="324.50" x2="147.50" y2="324.50" stroke="#111" stroke-width="0.7"/>
<text x="144.90" y="323.90" font-size="3.8" text-anchor="end" font-weight="bold" fill="#111" dominant-baseline="central" stroke="#111" stroke-width="0.2">400</text>
<line x1="145.10" y1="316.50" x2="147.50" y2="316.50" stroke="#111" stroke-width="0.7"/>
<text x="144.90" y="316.50" font-size="3.8" text-anchor="end" font-weight="bold" fill="#111" dominant-baseline="central" stroke="#111" stroke-width="0.2">600</text>
<line x1="145.10" y1="309.50" x2="147.50" y2="309.50" stroke="#111" stroke-width="0.7"/>
<text x="144.90" y="309.10" font-size="3.8" text-anchor="end" font-weight="bold" fill="#111" dominant-baseline="central" stroke="#111" stroke-width="0.2">800</text>
<line x1="147.05" y1="366.50" x2="232.70" y2="366.50" stroke="#111" stroke-width="0.9"/>
<line x1="157.80" y1="366.30" x2="157.80" y2="367.50" stroke="#111" stroke-width="0.6"/>
<text x="154.94" y="369.40" font-size="4.3" text-anchor="end" font-weight="bold" fill="#111" stroke="#111" stroke-width="0.12" dominant-baseline="hanging" transform="rotate(-45 154.94 369.40)">Day 0</text>
<line x1="178.90" y1="366.30" x2="178.90" y2="367.50" stroke="#111" stroke-width="0.6"/>
<text x="176.04" y="369.40" font-size="4.3" text-anchor="end" font-weight="bold" fill="#111" stroke="#111" stroke-width="0.12" dominant-baseline="hanging" transform="rotate(-45 176.04 369.40)">Day 2</text>
<line x1="200.60" y1="366.30" x2="200.60" y2="367.50" stroke="#111" stroke-width="0.6"/>
<text x="197.74" y="369.40" font-size="4.3" text-anchor="end" font-weight="bold" fill="#111" stroke="#111" stroke-width="0.12" dominant-baseline="hanging" transform="rotate(-45 197.74 369.40)">Day 3</text>
<line x1="221.90" y1="366.30" x2="221.90" y2="367.50" stroke="#111" stroke-width="0.6"/>
<text x="219.04" y="369.40" font-size="4.3" text-anchor="end" font-weight="bold" fill="#111" stroke="#111" stroke-width="0.12" dominant-baseline="hanging" transform="rotate(-45 219.04 369.40)">Day 7</text>
<polyline points="157.80,363.72 178.90,358.30 200.60,319.66 221.90,345.66" fill="none" stroke="#cc5048" stroke-width="0.7" stroke-dasharray="3.0,1.4"/>
<polyline points="157.80,360.88 178.90,361.91 200.60,349.53 221.90,361.14" fill="none" stroke="#111" stroke-width="0.8"/>
<rect x="156.50" y="362.42" width="2.60" height="2.60" fill="#c8302c"/>
<rect x="177.60" y="357.00" width="2.60" height="2.60" fill="#c8302c"/>
<rect x="199.30" y="318.36" width="2.60" height="2.60" fill="#c8302c"/>
<rect x="220.60" y="344.36" width="2.60" height="2.60" fill="#c8302c"/>
<rect x="156.60" y="359.68" width="2.40" height="2.40" fill="#111"/>
<rect x="177.70" y="360.71" width="2.40" height="2.40" fill="#111"/>
<rect x="199.40" y="348.33" width="2.40" height="2.40" fill="#111"/>
<rect x="220.70" y="359.94" width="2.40" height="2.40" fill="#111"/>
<text x="200.60" y="306.80" font-size="5.2" text-anchor="middle" font-weight="bold" fill="#222" dominant-baseline="central" stroke="#222" stroke-width="0.2">**</text>
<text x="221.90" y="334.20" font-size="5.2" text-anchor="middle" font-weight="bold" fill="#222" dominant-baseline="central" stroke="#222" stroke-width="0.2">*</text>
<rect x="240.60" y="318.70" width="2.20" height="2.20" fill="#c8302c"/>
<text x="248.20" y="319.80" font-size="4.6" text-anchor="start" font-weight="normal" fill="#111" dominant-baseline="central" stroke="#111" stroke-width="0.1">TLR3 +/-</text>
<circle cx="241.70" cy="325.80" r="1.10" fill="#111"/>
<text x="248.20" y="325.80" font-size="4.6" text-anchor="start" font-weight="normal" fill="#111" dominant-baseline="central" stroke="#111" stroke-width="0.1">TLR3 +/+</text>
<text x="271.30" y="115.90" font-size="6.5" text-anchor="start" font-weight="normal" fill="#222" dominant-baseline="central">Ratio serum IFN-β/IFN-α</text>
<rect x="270.7" y="122.5" width="154.50" height="10.2" fill="#f8984a"/>
<line x1="270.70" y1="122.50" x2="425.20" y2="122.50" stroke="#5a3a20" stroke-width="1.0"/>
<line x1="270.70" y1="132.60" x2="425.20" y2="132.60" stroke="#6a4a30" stroke-width="0.7"/>
<rect x="270.7" y="132.9" width="154.50" height="17.8" fill="#e4e4e4"/>
<rect x="270.7" y="169.2" width="154.50" height="18.1" fill="#e4e4e4"/>
<line x1="270.70" y1="187.00" x2="425.20" y2="187.00" stroke="#333" stroke-width="0.9"/>
<text x="296.30" y="128.40" font-size="7.0" text-anchor="middle" font-weight="normal" fill="#4a2008" dominant-baseline="central" stroke="#4a2008" stroke-width="0.18">Days pi</text>
<text x="348.00" y="128.40" font-size="7.0" text-anchor="middle" font-weight="normal" fill="#4a2008" dominant-baseline="central" stroke="#4a2008" stroke-width="0.18">MDA5 +/+</text>
<text x="400.00" y="128.40" font-size="7.0" text-anchor="middle" font-weight="normal" fill="#4a2008" dominant-baseline="central" stroke="#4a2008" stroke-width="0.18">MDA5 +/-</text>
<text x="296.30" y="146.70" font-size="7.1" text-anchor="middle" font-weight="normal" fill="#222" dominant-baseline="central" stroke="#222" stroke-width="0.15">2</text>
<text x="348.00" y="146.70" font-size="7.1" text-anchor="middle" font-weight="normal" fill="#222" dominant-baseline="central" stroke="#222" stroke-width="0.15">0.57</text>
<text x="400.00" y="146.70" font-size="7.1" text-anchor="middle" font-weight="normal" fill="#222" dominant-baseline="central" stroke="#222" stroke-width="0.15">0.41</text>
<text x="296.30" y="165.90" font-size="7.1" text-anchor="middle" font-weight="normal" fill="#222" dominant-baseline="central" stroke="#222" stroke-width="0.15">3</text>
<text x="348.00" y="165.90" font-size="7.1" text-anchor="middle" font-weight="normal" fill="#222" dominant-baseline="central" stroke="#222" stroke-width="0.15">1.06</text>
<text x="400.00" y="165.90" font-size="7.1" text-anchor="middle" font-weight="normal" fill="#222" dominant-baseline="central" stroke="#222" stroke-width="0.15">5.15</text>
<text x="296.30" y="183.60" font-size="7.1" text-anchor="middle" font-weight="normal" fill="#222" dominant-baseline="central" stroke="#222" stroke-width="0.15">7</text>
<text x="348.00" y="183.60" font-size="7.1" text-anchor="middle" font-weight="normal" fill="#222" dominant-baseline="central" stroke="#222" stroke-width="0.15">2.40</text>
<text x="400.00" y="183.60" font-size="7.1" text-anchor="middle" font-weight="normal" fill="#222" dominant-baseline="central" stroke="#222" stroke-width="0.15">0.37</text>
<text x="333.60" y="215.80" font-size="5.4" text-anchor="middle" font-weight="bold" fill="#111" dominant-baseline="central" stroke="#111" stroke-width="0.2">MDA5 Day 3</text>
<text x="275.00" y="252.00" font-size="4.45" text-anchor="middle" font-weight="bold" fill="#111" dominant-baseline="central" stroke="#111" stroke-width="0.2" transform="rotate(-90 275.0 252.00000000000003)">relative expression to MDA5+/+</text>
<rect x="299.60" y="265.80" width="9.80" height="13.30" fill="#fff" stroke="#111" stroke-width="0.8"/>
<rect x="314.80" y="247.59" width="10.60" height="31.51" fill="#8e8e8e"/>
<line x1="320.10" y1="247.59" x2="320.10" y2="240.74" stroke="#222" stroke-width="0.6"/>
<line x1="317.90" y1="240.74" x2="322.30" y2="240.74" stroke="#222" stroke-width="0.6"/>
<rect x="340.80" y="265.80" width="9.80" height="13.30" fill="#fff" stroke="#111" stroke-width="0.8"/>
<rect x="356.30" y="272.52" width="10.60" height="6.58" fill="#8e8e8e"/>
<line x1="361.60" y1="272.52" x2="361.60" y2="271.98" stroke="#222" stroke-width="0.6"/>
<line x1="359.40" y1="271.98" x2="363.80" y2="271.98" stroke="#222" stroke-width="0.6"/>
<line x1="291.50" y1="279.10" x2="291.50" y2="224.30" stroke="#111" stroke-width="0.9"/>
<line x1="289.10" y1="279.50" x2="291.50" y2="279.50" stroke="#111" stroke-width="0.7"/>
<text x="288.90" y="279.30" font-size="3.5" text-anchor="end" font-weight="bold" fill="#111" dominant-baseline="central" stroke="#111" stroke-width="0.2">0.0</text>
<line x1="289.10" y1="272.50" x2="291.50" y2="272.50" stroke="#111" stroke-width="0.7"/>
<text x="288.90" y="272.45" font-size="3.5" text-anchor="end" font-weight="bold" fill="#111" dominant-baseline="central" stroke="#111" stroke-width="0.2">0.5</text>
<line x1="289.10" y1="265.50" x2="291.50" y2="265.50" stroke="#111" stroke-width="0.7"/>
<text x="288.90" y="265.60" font-size="3.5" text-anchor="end" font-weight="bold" fill="#111" dominant-baseline="central" stroke="#111" stroke-width="0.2">1.0</text>
<line x1="289.10" y1="258.50" x2="291.50" y2="258.50" stroke="#111" stroke-width="0.7"/>
<text x="288.90" y="258.75" font-size="3.5" text-anchor="end" font-weight="bold" fill="#111" dominant-baseline="central" stroke="#111" stroke-width="0.2">1.5</text>
<line x1="289.10" y1="251.50" x2="291.50" y2="251.50" stroke="#111" stroke-width="0.7"/>
<text x="288.90" y="251.90" font-size="3.5" text-anchor="end" font-weight="bold" fill="#111" dominant-baseline="central" stroke="#111" stroke-width="0.2">2.0</text>
<line x1="289.10" y1="244.50" x2="291.50" y2="244.50" stroke="#111" stroke-width="0.7"/>
<text x="288.90" y="245.05" font-size="3.5" text-anchor="end" font-weight="bold" fill="#111" dominant-baseline="central" stroke="#111" stroke-width="0.2">2.5</text>
<line x1="289.10" y1="238.50" x2="291.50" y2="238.50" stroke="#111" stroke-width="0.7"/>
<text x="288.90" y="238.20" font-size="3.5" text-anchor="end" font-weight="bold" fill="#111" dominant-baseline="central" stroke="#111" stroke-width="0.2">3.0</text>
<line x1="289.10" y1="231.50" x2="291.50" y2="231.50" stroke="#111" stroke-width="0.7"/>
<text x="288.90" y="231.35" font-size="3.5" text-anchor="end" font-weight="bold" fill="#111" dominant-baseline="central" stroke="#111" stroke-width="0.2">3.5</text>
<line x1="289.10" y1="224.50" x2="291.50" y2="224.50" stroke="#111" stroke-width="0.7"/>
<text x="288.90" y="224.50" font-size="3.5" text-anchor="end" font-weight="bold" fill="#111" dominant-baseline="central" stroke="#111" stroke-width="0.2">4.0</text>
<line x1="291.05" y1="279.50" x2="374.70" y2="279.50" stroke="#111" stroke-width="0.9"/>
<line x1="312.30" y1="279.10" x2="312.30" y2="280.30" stroke="#111" stroke-width="0.6"/>
<text x="311.03" y="282.14" font-size="3.9" text-anchor="end" font-weight="bold" fill="#111" stroke="#111" stroke-width="0.12" dominant-baseline="hanging" transform="rotate(-45 311.03 282.14)">Pancreas</text>
<line x1="353.60" y1="279.10" x2="353.60" y2="280.30" stroke="#111" stroke-width="0.6"/>
<text x="352.33" y="282.14" font-size="3.9" text-anchor="end" font-weight="bold" fill="#111" stroke="#111" stroke-width="0.12" dominant-baseline="hanging" transform="rotate(-45 352.33 282.14)">Spleen</text>
<text x="442.10" y="216.00" font-size="5.4" text-anchor="middle" font-weight="bold" fill="#111" dominant-baseline="central" stroke="#111" stroke-width="0.2">TLR3 Day 3</text>
<text x="383.90" y="253.20" font-size="4.45" text-anchor="middle" font-weight="bold" fill="#111" dominant-baseline="central" stroke="#111" stroke-width="0.2" transform="rotate(-90 383.9 253.20000000000002)">relative expression to MDA5+/+</text>
<rect x="408.50" y="267.25" width="9.80" height="13.55" fill="#fff" stroke="#111" stroke-width="0.8"/>
<rect x="423.80" y="245.93" width="10.60" height="34.88" fill="#8e8e8e"/>
<line x1="429.10" y1="245.93" x2="429.10" y2="234.77" stroke="#222" stroke-width="0.6"/>
<line x1="426.90" y1="234.77" x2="431.30" y2="234.77" stroke="#222" stroke-width="0.6"/>
<rect x="449.80" y="267.25" width="10.20" height="13.55" fill="#fff" stroke="#111" stroke-width="0.8"/>
<rect x="465.00" y="260.71" width="10.60" height="20.09" fill="#8e8e8e"/>
<line x1="470.30" y1="260.71" x2="470.30" y2="259.04" stroke="#222" stroke-width="0.6"/>
<line x1="468.10" y1="259.04" x2="472.50" y2="259.04" stroke="#222" stroke-width="0.6"/>
<line x1="400.50" y1="280.80" x2="400.50" y2="225.00" stroke="#111" stroke-width="0.9"/>
<line x1="398.10" y1="280.50" x2="400.50" y2="280.50" stroke="#111" stroke-width="0.7"/>
<text x="397.90" y="281.00" font-size="3.5" text-anchor="end" font-weight="bold" fill="#111" dominant-baseline="central" stroke="#111" stroke-width="0.2">0.0</text>
<line x1="398.10" y1="273.50" x2="400.50" y2="273.50" stroke="#111" stroke-width="0.7"/>
<text x="397.90" y="274.02" font-size="3.5" text-anchor="end" font-weight="bold" fill="#111" dominant-baseline="central" stroke="#111" stroke-width="0.2">0.5</text>
<line x1="398.10" y1="266.50" x2="400.50" y2="266.50" stroke="#111" stroke-width="0.7"/>
<text x="397.90" y="267.05" font-size="3.5" text-anchor="end" font-weight="bold" fill="#111" dominant-baseline="central" stroke="#111" stroke-width="0.2">1.0</text>
<line x1="398.10" y1="259.50" x2="400.50" y2="259.50" stroke="#111" stroke-width="0.7"/>
<text x="397.90" y="260.07" font-size="3.5" text-anchor="end" font-weight="bold" fill="#111" dominant-baseline="central" stroke="#111" stroke-width="0.2">1.5</text>
<line x1="398.10" y1="252.50" x2="400.50" y2="252.50" stroke="#111" stroke-width="0.7"/>
<text x="397.90" y="253.10" font-size="3.5" text-anchor="end" font-weight="bold" fill="#111" dominant-baseline="central" stroke="#111" stroke-width="0.2">2.0</text>
<line x1="398.10" y1="245.50" x2="400.50" y2="245.50" stroke="#111" stroke-width="0.7"/>
<text x="397.90" y="246.12" font-size="3.5" text-anchor="end" font-weight="bold" fill="#111" dominant-baseline="central" stroke="#111" stroke-width="0.2">2.5</text>
<line x1="398.10" y1="238.50" x2="400.50" y2="238.50" stroke="#111" stroke-width="0.7"/>
<text x="397.90" y="239.15" font-size="3.5" text-anchor="end" font-weight="bold" fill="#111" dominant-baseline="central" stroke="#111" stroke-width="0.2">3.0</text>
<line x1="398.10" y1="231.50" x2="400.50" y2="231.50" stroke="#111" stroke-width="0.7"/>
<text x="397.90" y="232.17" font-size="3.5" text-anchor="end" font-weight="bold" fill="#111" dominant-baseline="central" stroke="#111" stroke-width="0.2">3.5</text>
<line x1="398.10" y1="225.50" x2="400.50" y2="225.50" stroke="#111" stroke-width="0.7"/>
<text x="397.90" y="225.20" font-size="3.5" text-anchor="end" font-weight="bold" fill="#111" dominant-baseline="central" stroke="#111" stroke-width="0.2">4.0</text>
<line x1="400.05" y1="280.50" x2="483.90" y2="280.50" stroke="#111" stroke-width="0.9"/>
<line x1="421.30" y1="280.80" x2="421.30" y2="282.00" stroke="#111" stroke-width="0.6"/>
<text x="420.03" y="283.84" font-size="3.9" text-anchor="end" font-weight="bold" fill="#111" stroke="#111" stroke-width="0.12" dominant-baseline="hanging" transform="rotate(-45 420.03 283.84)">Pancreas</text>
<line x1="462.50" y1="280.80" x2="462.50" y2="282.00" stroke="#111" stroke-width="0.6"/>
<text x="461.23" y="283.84" font-size="3.9" text-anchor="end" font-weight="bold" fill="#111" stroke="#111" stroke-width="0.12" dominant-baseline="hanging" transform="rotate(-45 461.23 283.84)">Spleen</text>
<text x="333.10" y="306.20" font-size="5.4" text-anchor="middle" font-weight="bold" fill="#111" dominant-baseline="central" stroke="#111" stroke-width="0.2">IFN<tspan font-weight="normal" font-size="4.86" fill="#444" stroke="#444" stroke-width="0.1">-α</tspan> Day 3</text>
<text x="275.00" y="341.80" font-size="4.45" text-anchor="middle" font-weight="bold" fill="#111" dominant-baseline="central" stroke="#111" stroke-width="0.2" transform="rotate(-90 275.0 341.8)">relative expression to MDA5+/+</text>
<rect x="299.80" y="357.65" width="9.40" height="12.35" fill="#fff" stroke="#111" stroke-width="0.8"/>
<rect x="315.00" y="362.35" width="10.40" height="7.65" fill="#8e8e8e"/>
<rect x="342.00" y="357.65" width="9.30" height="12.35" fill="#fff" stroke="#111" stroke-width="0.8"/>
<rect x="356.70" y="344.50" width="10.30" height="25.50" fill="#8e8e8e"/>
<rect x="356.70" y="335.20" width="10.30" height="4.40" fill="#8e8e8e"/>
<line x1="361.85" y1="335.20" x2="361.85" y2="330.90" stroke="#222" stroke-width="0.6"/>
<line x1="359.65" y1="330.90" x2="364.05" y2="330.90" stroke="#222" stroke-width="0.6"/>
<line x1="291.50" y1="370.00" x2="291.50" y2="344.50" stroke="#111" stroke-width="0.9"/>
<line x1="291.50" y1="339.60" x2="291.50" y2="313.00" stroke="#111" stroke-width="0.9"/>
<line x1="289.10" y1="370.50" x2="291.50" y2="370.50" stroke="#111" stroke-width="0.7"/>
<text x="288.90" y="370.20" font-size="3.5" text-anchor="end" font-weight="bold" fill="#111" dominant-baseline="central" stroke="#111" stroke-width="0.2">0.0</text>
<line x1="289.10" y1="363.50" x2="291.50" y2="363.50" stroke="#111" stroke-width="0.7"/>
<text x="288.90" y="363.82" font-size="3.5" text-anchor="end" font-weight="bold" fill="#111" dominant-baseline="central" stroke="#111" stroke-width="0.2">0.5</text>
<line x1="289.10" y1="357.50" x2="291.50" y2="357.50" stroke="#111" stroke-width="0.7"/>
<text x="288.90" y="357.45" font-size="3.5" text-anchor="end" font-weight="bold" fill="#111" dominant-baseline="central" stroke="#111" stroke-width="0.2">1.0</text>
<line x1="289.10" y1="350.50" x2="291.50" y2="350.50" stroke="#111" stroke-width="0.7"/>
<text x="288.90" y="351.07" font-size="3.5" text-anchor="end" font-weight="bold" fill="#111" dominant-baseline="central" stroke="#111" stroke-width="0.2">1.5</text>
<line x1="289.10" y1="344.50" x2="291.50" y2="344.50" stroke="#111" stroke-width="0.7"/>
<text x="288.90" y="344.70" font-size="3.5" text-anchor="end" font-weight="bold" fill="#111" dominant-baseline="central" stroke="#111" stroke-width="0.2">2.0</text>
<line x1="289.10" y1="334.50" x2="291.50" y2="334.50" stroke="#111" stroke-width="0.7"/>
<text x="288.90" y="335.04" font-size="3.5" text-anchor="end" font-weight="bold" fill="#111" dominant-baseline="central" stroke="#111" stroke-width="0.2">20</text>
<line x1="289.10" y1="327.50" x2="291.50" y2="327.50" stroke="#111" stroke-width="0.7"/>
<text x="288.90" y="328.16" font-size="3.5" text-anchor="end" font-weight="bold" fill="#111" dominant-baseline="central" stroke="#111" stroke-width="0.2">40</text>
<line x1="289.10" y1="321.50" x2="291.50" y2="321.50" stroke="#111" stroke-width="0.7"/>
<text x="288.90" y="321.28" font-size="3.5" text-anchor="end" font-weight="bold" fill="#111" dominant-baseline="central" stroke="#111" stroke-width="0.2">60</text>
<line x1="289.10" y1="314.50" x2="291.50" y2="314.50" stroke="#111" stroke-width="0.7"/>
<text x="288.90" y="314.40" font-size="3.5" text-anchor="end" font-weight="bold" fill="#111" dominant-baseline="central" stroke="#111" stroke-width="0.2">80</text>
<line x1="291.05" y1="370.50" x2="375.00" y2="370.50" stroke="#111" stroke-width="0.9"/>
<line x1="312.30" y1="370.00" x2="312.30" y2="371.20" stroke="#111" stroke-width="0.6"/>
<text x="311.03" y="373.04" font-size="3.9" text-anchor="end" font-weight="bold" fill="#111" stroke="#111" stroke-width="0.12" dominant-baseline="hanging" transform="rotate(-45 311.03 373.04)">Pancreas</text>
<line x1="353.60" y1="370.00" x2="353.60" y2="371.20" stroke="#111" stroke-width="0.6"/>
<text x="352.33" y="373.04" font-size="3.9" text-anchor="end" font-weight="bold" fill="#111" stroke="#111" stroke-width="0.12" dominant-baseline="hanging" transform="rotate(-45 352.33 373.04)">Spleen</text>
<text x="441.80" y="305.90" font-size="5.4" text-anchor="middle" font-weight="bold" fill="#111" dominant-baseline="central" stroke="#111" stroke-width="0.2">IFN<tspan font-weight="normal" font-size="4.86" fill="#444" stroke="#444" stroke-width="0.1">-β</tspan> Day 3</text>
<text x="383.60" y="341.70" font-size="4.45" text-anchor="middle" font-weight="bold" fill="#111" dominant-baseline="central" stroke="#111" stroke-width="0.2" transform="rotate(-90 383.6 341.7)">relative expression to MDA5+/+</text>
<rect x="408.30" y="357.70" width="9.70" height="12.10" fill="#fff" stroke="#111" stroke-width="0.8"/>
<rect x="423.40" y="344.80" width="10.80" height="25.00" fill="#8e8e8e"/>
<rect x="423.40" y="327.00" width="10.80" height="13.00" fill="#8e8e8e"/>
<line x1="428.80" y1="327.00" x2="428.80" y2="319.40" stroke="#222" stroke-width="0.6"/>
<line x1="426.60" y1="319.40" x2="431.00" y2="319.40" stroke="#222" stroke-width="0.6"/>
<rect x="450.10" y="357.70" width="9.50" height="12.10" fill="#fff" stroke="#111" stroke-width="0.8"/>
<rect x="465.30" y="361.30" width="10.30" height="8.50" fill="#8e8e8e"/>
<line x1="470.45" y1="361.30" x2="470.45" y2="356.68" stroke="#222" stroke-width="0.6"/>
<line x1="468.25" y1="356.68" x2="472.65" y2="356.68" stroke="#222" stroke-width="0.6"/>
<line x1="400.50" y1="369.80" x2="400.50" y2="344.80" stroke="#111" stroke-width="0.9"/>
<line x1="400.50" y1="339.60" x2="400.50" y2="313.00" stroke="#111" stroke-width="0.9"/>
<line x1="398.10" y1="369.50" x2="400.50" y2="369.50" stroke="#111" stroke-width="0.7"/>
<text x="397.90" y="370.00" font-size="3.5" text-anchor="end" font-weight="bold" fill="#111" dominant-baseline="central" stroke="#111" stroke-width="0.2">0.0</text>
<line x1="398.10" y1="363.50" x2="400.50" y2="363.50" stroke="#111" stroke-width="0.7"/>
<text x="397.90" y="363.75" font-size="3.5" text-anchor="end" font-weight="bold" fill="#111" dominant-baseline="central" stroke="#111" stroke-width="0.2">0.5</text>
<line x1="398.10" y1="357.50" x2="400.50" y2="357.50" stroke="#111" stroke-width="0.7"/>
<text x="397.90" y="357.50" font-size="3.5" text-anchor="end" font-weight="bold" fill="#111" dominant-baseline="central" stroke="#111" stroke-width="0.2">1.0</text>
<line x1="398.10" y1="351.50" x2="400.50" y2="351.50" stroke="#111" stroke-width="0.7"/>
<text x="397.90" y="351.25" font-size="3.5" text-anchor="end" font-weight="bold" fill="#111" dominant-baseline="central" stroke="#111" stroke-width="0.2">1.5</text>
<line x1="398.10" y1="344.50" x2="400.50" y2="344.50" stroke="#111" stroke-width="0.7"/>
<text x="397.90" y="345.00" font-size="3.5" text-anchor="end" font-weight="bold" fill="#111" dominant-baseline="central" stroke="#111" stroke-width="0.2">2.0</text>
<line x1="398.10" y1="335.50" x2="400.50" y2="335.50" stroke="#111" stroke-width="0.7"/>
<text x="397.90" y="335.28" font-size="3.5" text-anchor="end" font-weight="bold" fill="#111" dominant-baseline="central" stroke="#111" stroke-width="0.2">20</text>
<line x1="398.10" y1="328.50" x2="400.50" y2="328.50" stroke="#111" stroke-width="0.7"/>
<text x="397.90" y="328.32" font-size="3.5" text-anchor="end" font-weight="bold" fill="#111" dominant-baseline="central" stroke="#111" stroke-width="0.2">40</text>
<line x1="398.10" y1="321.50" x2="400.50" y2="321.50" stroke="#111" stroke-width="0.7"/>
<text x="397.90" y="321.36" font-size="3.5" text-anchor="end" font-weight="bold" fill="#111" dominant-baseline="central" stroke="#111" stroke-width="0.2">60</text>
<line x1="398.10" y1="314.50" x2="400.50" y2="314.50" stroke="#111" stroke-width="0.7"/>
<text x="397.90" y="314.40" font-size="3.5" text-anchor="end" font-weight="bold" fill="#111" dominant-baseline="central" stroke="#111" stroke-width="0.2">80</text>
<line x1="400.05" y1="369.50" x2="483.60" y2="369.50" stroke="#111" stroke-width="0.9"/>
<line x1="421.00" y1="369.80" x2="421.00" y2="371.00" stroke="#111" stroke-width="0.6"/>
<text x="419.73" y="372.84" font-size="3.9" text-anchor="end" font-weight="bold" fill="#111" stroke="#111" stroke-width="0.12" dominant-baseline="hanging" transform="rotate(-45 419.73 372.84)">Pancreas</text>
<line x1="462.50" y1="369.80" x2="462.50" y2="371.00" stroke="#111" stroke-width="0.6"/>
<text x="461.23" y="372.84" font-size="3.9" text-anchor="end" font-weight="bold" fill="#111" stroke="#111" stroke-width="0.12" dominant-baseline="hanging" transform="rotate(-45 461.23 372.84)">Spleen</text>
<rect x="489.6" y="227.40" width="6.6" height="3.6" fill="#fff" stroke="#111" stroke-width="0.8"/>
<text x="498.50" y="229.20" font-size="4.6" text-anchor="start" font-weight="normal" fill="#111" dominant-baseline="central" stroke="#111" stroke-width="0.1">MDA5 +/+</text>
<rect x="489.2" y="233.70" width="7.4" height="4.2" fill="#8e8e8e"/>
<text x="498.50" y="235.80" font-size="4.6" text-anchor="start" font-weight="normal" fill="#111" dominant-baseline="central" stroke="#111" stroke-width="0.1">MDA5 +/-</text>
<rect x="489.6" y="316.30" width="6.6" height="3.6" fill="#fff" stroke="#111" stroke-width="0.8"/>
<text x="498.50" y="318.10" font-size="4.6" text-anchor="start" font-weight="normal" fill="#111" dominant-baseline="central" stroke="#111" stroke-width="0.1">MDA5 +/+</text>
<rect x="489.2" y="322.60" width="7.4" height="4.2" fill="#8e8e8e"/>
<text x="498.50" y="324.70" font-size="4.6" text-anchor="start" font-weight="normal" fill="#111" dominant-baseline="central" stroke="#111" stroke-width="0.1">MDA5 +/-</text>
</svg>
</body></html>
